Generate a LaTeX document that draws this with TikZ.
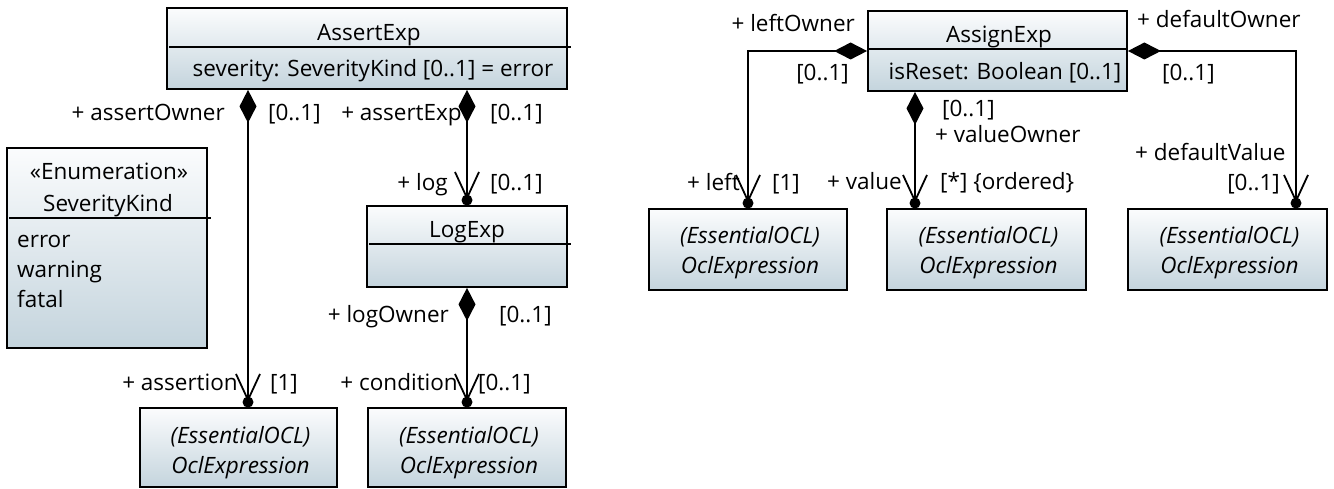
\documentclass[tikz,border=0pt]{standalone}
\usepackage{fontspec}
\setmainfont{Open Sans}
\usetikzlibrary{arrows.meta}
\definecolor{boxtop}{RGB}{251,252,253}
\definecolor{boxbot}{RGB}{196,212,221}
\begin{document}
\begin{tikzpicture}[x=1pt,y=-1pt,
  font=\fontsize{22.5}{30}\selectfont,
  umlbox/.style={draw=black, line width=1.8pt, top color=boxtop, bottom color=boxbot, inner sep=0pt},
  divider/.style={line width=1.8pt},
  txt/.style={inner sep=0pt, text=black},
  lbl/.style={inner sep=0pt, text=black},
  comp/.style={line width=1.8pt, {Diamond[length=33pt,width=17pt]}-{Straight Barb[length=26pt,width=24pt,sep=5pt]}},
  dotend/.style={fill=black}]
\useasboundingbox (0,0) rectangle (1334,489);

% ---------- boxes ----------
\node[umlbox, minimum width=400pt, minimum height=81pt] (assert) at (367,48.5) {};
\node[umlbox, minimum width=200pt, minimum height=200pt] (sev) at (107,248) {};
\node[umlbox, minimum width=200pt, minimum height=81pt] (log) at (467,246.5) {};
\node[umlbox, minimum width=197pt, minimum height=79pt] (ocl1) at (238.5,447.5) {};
\node[umlbox, minimum width=198pt, minimum height=79pt] (ocl2) at (467,447.5) {};
\node[umlbox, minimum width=259pt, minimum height=80pt] (assign) at (997.5,51) {};
\node[umlbox, minimum width=198pt, minimum height=81pt] (ocl3) at (748,249.5) {};
\node[umlbox, minimum width=199pt, minimum height=81pt] (ocl4) at (986.5,249.5) {};
\node[umlbox, minimum width=199pt, minimum height=81pt] (ocl5) at (1227.5,249.5) {};

% dividers
\draw[divider] ([xshift=3]assert.west |- 0,47) -- ([xshift=3]assert.east |- 0,47);
\draw[divider] ([xshift=3]sev.west |- 0,218) -- ([xshift=3]sev.east |- 0,218);
\draw[divider] ([xshift=3]log.west |- 0,244) -- ([xshift=3]log.east |- 0,244);
\draw[divider] (assign.west |- 0,49) -- (assign.east |- 0,49);

% box texts
\node[txt, anchor=base] (assertT) at (369,41) {AssertExp};
\node[txt, anchor=base] (assertA) at (373,77) {severity: SeverityKind [0..1] = error};
\node[txt, anchor=base] (sevS) at (109,180) {«Enumeration»};
\node[txt, anchor=base] (sevT) at (108,212) {SeverityKind};
\node[txt, anchor=base west] (sev1) at (17,248) {error};
\node[txt, anchor=base west] (sev2) at (17,278) {warning};
\node[txt, anchor=base west] (sev3) at (17,308) {fatal};
\node[txt, anchor=base] (logT) at (467,238) {LogExp};
\node[txt, anchor=base] (assignT) at (999,43) {AssignExp};
\node[txt, anchor=base] (assignA) at (1005,80) {isReset: Boolean [0..1]};

\foreach \b/\t in {ocl1/408, ocl2/408, ocl3/209, ocl4/209, ocl5/209}{
  \node[txt, anchor=base, font=\fontsize{22.5}{30}\selectfont\itshape] (\b a) at ([xshift=2]\b.center |- 0,\t+35) {(EssentialOCL)};
  \node[txt, anchor=base, font=\fontsize{22.5}{30}\selectfont\itshape] (\b b) at ([xshift=2]\b.center |- 0,\t+65) {OclExpression};
}

% ---------- connectors ----------
\draw[comp] ([xshift=-119]assert.south) -- ([xshift=9.5]ocl1.north);
\fill[dotend] ([xshift=9.5]ocl1.north) ++(0,-5) circle[radius=5.5pt];
\draw[comp] ([xshift=100]assert.south) -- (log.north);
\fill[dotend] (log.north) ++(0,-5) circle[radius=5.5pt];
\draw[comp] (log.south) -- (ocl2.north);
\fill[dotend] (ocl2.north) ++(0,-5) circle[radius=5.5pt];

\draw[comp] (assign.west) -| (ocl3.north);
\fill[dotend] (ocl3.north) ++(0,-5) circle[radius=5.5pt];
\draw[comp] ([xshift=-82.5]assign.south) -- ([xshift=-71.5]ocl4.north);
\fill[dotend] ([xshift=-71.5]ocl4.north) ++(0,-5) circle[radius=5.5pt];
\draw[comp] (assign.east) -| ([xshift=68.5]ocl5.north);
\fill[dotend] ([xshift=68.5]ocl5.north) ++(0,-5) circle[radius=5.5pt];

% ---------- connector labels ----------
\node[lbl, anchor=mid east] (l1) at (225,118) {+ assertOwner};
\node[lbl, anchor=mid west] (l2) at (268,118) {[0..1]};
\node[lbl, anchor=mid east] (l3) at (462,118) {+ assertExp};
\node[lbl, anchor=mid west] (l4) at (490,118) {[0..1]};
\node[lbl, anchor=mid east] (l5) at (448,188) {+ log};
\node[lbl, anchor=mid west] (l6) at (490,188) {[0..1]};
\node[lbl, anchor=mid east] (l7) at (449,320) {+ logOwner};
\node[lbl, anchor=mid west] (l8) at (499,320) {[0..1]};
\node[lbl, anchor=mid east] (l9) at (238,388) {+ assertion};
\node[lbl, anchor=mid west] (l10) at (270,388) {[1]};
\node[lbl, anchor=mid east] (l11) at (458,388) {+ condition};
\node[lbl, anchor=mid west] (l12) at (478,388) {[0..1]};

\node[lbl, anchor=mid east] (r1) at (855,29) {+ leftOwner};
\node[lbl, anchor=mid east] (r2) at (849,78) {[0..1]};
\node[lbl, anchor=mid west] (r3) at (942,114) {[0..1]};
\node[lbl, anchor=mid west] (r4) at (935,140) {+ valueOwner};
\node[lbl, anchor=mid east] (r5) at (740,188) {+ left};
\node[lbl, anchor=mid west] (r6) at (772,188) {[1]};
\node[lbl, anchor=mid east] (r7) at (902,187) {+ value};
\node[lbl, anchor=mid west] (r8) at (940,187) {[*] \{ordered\}};
\node[lbl, anchor=mid west] (r9) at (1137,25) {+ defaultOwner};
\node[lbl, anchor=mid west] (r10) at (1162,78) {[0..1]};
\node[lbl, anchor=mid west] (r11) at (1135,158) {+ defaultValue};
\node[lbl, anchor=mid east] (r12) at (1280,188) {[0..1]};
\end{tikzpicture}
\end{document}
